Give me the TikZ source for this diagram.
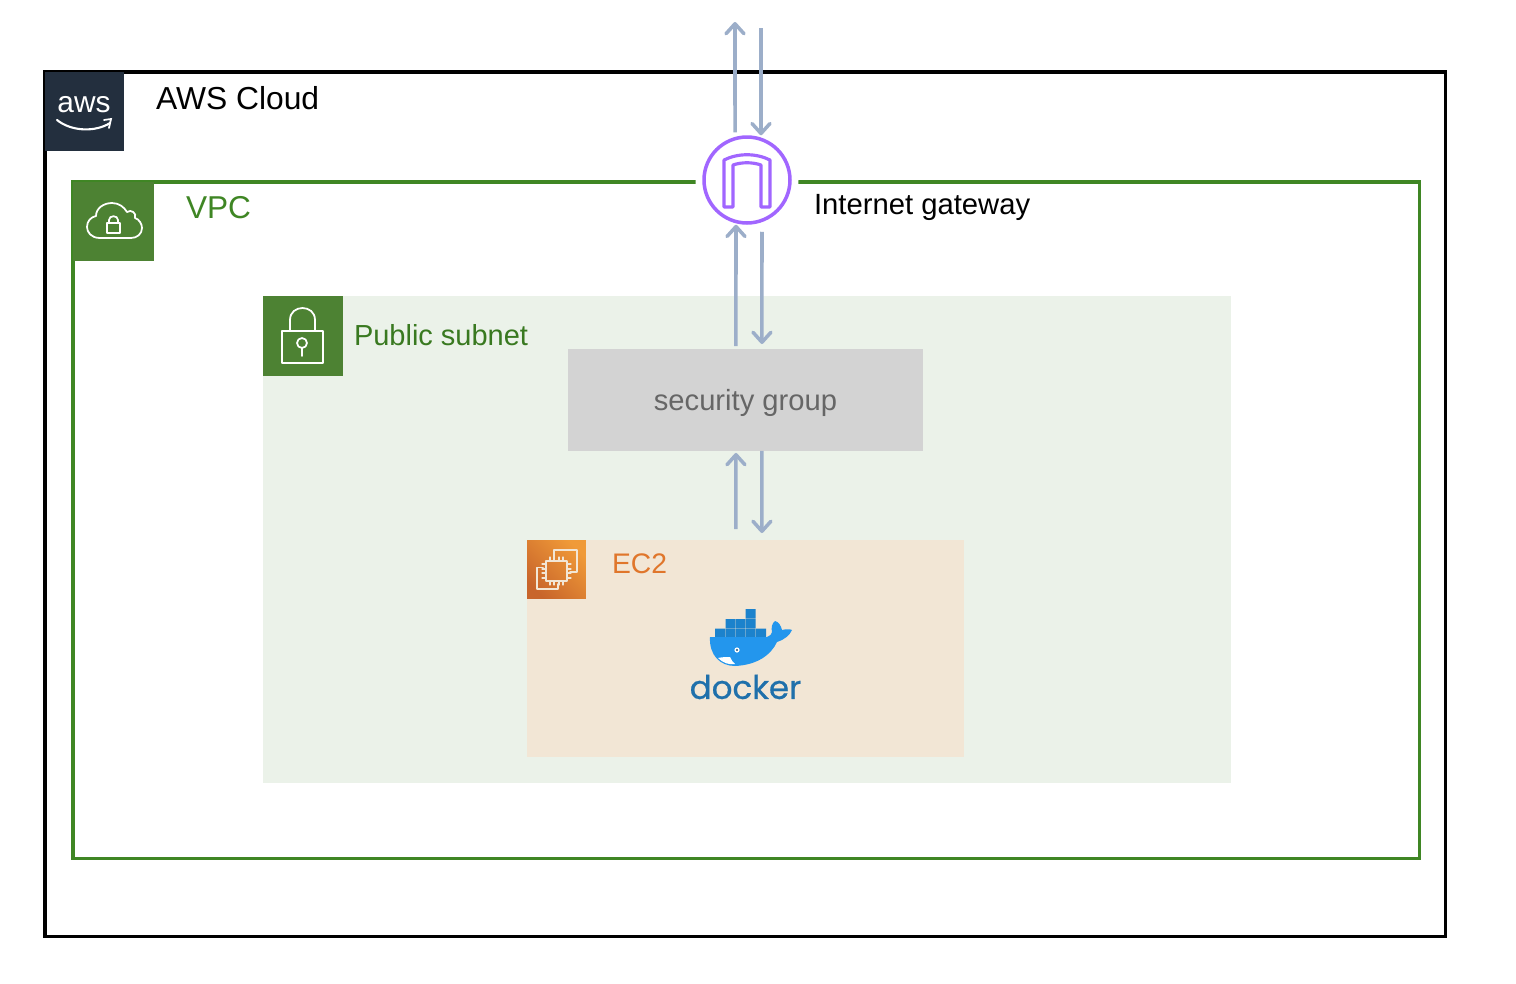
\documentclass[tikz,border=0pt]{standalone}
\usepackage{fontspec}
\setmainfont{Liberation Sans}
\newfontfamily\dockerfont[FakeBold=0.7]{Poppins}
\usetikzlibrary{arrows.meta}
\definecolor{awsdark}{HTML}{232F3E}
\definecolor{vpcgreen}{HTML}{3F8624}
\definecolor{iconGreen}{HTML}{4D8233}
\definecolor{subnetfill}{HTML}{EBF2E9}
\definecolor{sgfill}{HTML}{D3D3D3}
\definecolor{sgtext}{HTML}{666666}
\definecolor{ec2fill}{HTML}{F2E6D5}
\definecolor{ec2text}{HTML}{E0762B}
\definecolor{ec2low}{HTML}{C8652B}
\definecolor{ec2high}{HTML}{F09A38}
\definecolor{igwpurple}{HTML}{A166FF}
\definecolor{flowblue}{HTML}{9CAEC9}
\definecolor{whaleblue}{HTML}{2396ED}
\definecolor{crateblue}{HTML}{1C82CC}
\definecolor{dockertext}{HTML}{1F70AB}
\tikzset{
  >={Straight Barb[length=0.2cm,width=0.36cm,round]},
  box/.style={rectangle,anchor=north west,inner sep=0pt,outer sep=0pt},
  tag/.style={anchor=west,inner sep=0pt,outer sep=0pt},
  flowline/.style={draw=flowblue,line width=2pt},
  iconline/.style={draw=white,line width=1pt,line cap=round,line join=round},
  chipline/.style={draw=ec2fill,line width=1.1pt,line cap=round,line join=round},
}
\begin{document}
\begin{tikzpicture}[x=0.02cm,y=-0.02cm]
\useasboundingbox (0,0) rectangle (1516,984);
\fill[white] (0,0) rectangle (1516,984);
% boxes
\node[box,draw=black,line width=1.8pt,minimum width=28.02cm,minimum height=17.3cm] (cloudbox) at (45,72) {};
\node[box,draw=vpcgreen,line width=1.8pt,minimum width=26.94cm,minimum height=13.54cm] (vpcbox) at (73,182) {};
\node[box,fill=subnetfill,minimum width=19.36cm,minimum height=9.74cm] (subnetbox) at (263,296) {};
\node[box,fill=sgfill,text=sgtext,text depth=0pt,font=\fontsize{16.6}{18}\selectfont,minimum width=7.1cm,minimum height=2.04cm] (sg) at (568,349) {security group};
\node[box,fill=ec2fill,minimum width=8.74cm,minimum height=4.34cm] (ec2box) at (527,540) {};
% icon squares
\node[box,fill=awsdark,minimum width=1.58cm,minimum height=1.58cm] (awslogo) at (45,72) {};
\node[box,fill=iconGreen,minimum width=1.62cm,minimum height=1.58cm] (vpcicon) at (73,182) {};
\node[box,fill=iconGreen,minimum width=1.6cm,minimum height=1.6cm] (subneticon) at (263,296) {};
\node[box,left color=ec2low,right color=ec2high,shading angle=135,minimum width=1.18cm,minimum height=1.18cm] (ec2icon) at (527,540) {};
% labels
\node[tag,font=\fontsize{18.1}{20}\selectfont] (cloudlabel) at (156,98) {AWS Cloud};
\node[tag,text=vpcgreen,font=\fontsize{18}{20}\selectfont] (vpclabel) at (186,208) {VPC};
\node[tag,font=\fontsize{16.65}{20}\selectfont] (igwlabel) at (814,207) {Internet gateway};
\node[tag,text=vpcgreen!90!black,font=\fontsize{16.5}{20}\selectfont] (subnetlabel) at (354,335) {Public subnet};
\node[tag,text=ec2text,font=\fontsize{16.1}{20}\selectfont] (ec2label) at (612,564) {EC2};
\node[white,inner sep=0pt,font=\fontsize{17}{20}\selectfont] (awstext) at (84,105) {aws};
\node[text=dockertext,inner sep=0pt,font=\dockerfont\fontsize{18.5}{20}\selectfont] (dockerword) at (745.5,687) {docker};
% aws smile
\draw[white,line width=1.2pt,line cap=round] (57,120) .. controls (72,132) and (96,132) .. (110,123);
\draw[white,line width=1pt,line cap=round] (104,120) -- (111,119) -- (109,128);
% vpc cloud
\draw[iconline] (100,238) .. controls (91,238) and (87,232) .. (87,227)
  .. controls (87,221) and (91,217) .. (96,216)
  .. controls (96,208) and (104,203) .. (112,203)
  .. controls (119,203) and (124,207) .. (127,212)
  .. controls (131,209) and (137,213) .. (135,218)
  .. controls (139,219) and (142,224) .. (142,228)
  .. controls (142,234) and (137,238) .. (131,238) -- cycle;
\draw[iconline] (107,223) rectangle (120,233);
\draw[iconline] (109,223) -- (109,220) .. controls (109,215) and (118,215) .. (118,220) -- (118,223);
% subnet lock
\draw[iconline] (282,331) rectangle (323,363);
\draw[iconline] (290,331) -- (290,320) .. controls (290,304) and (315,304) .. (315,320) -- (315,331);
\draw[iconline] (302,343) circle (5);
\draw[iconline] (302,348) -- (302,356);
% ec2 chip
\draw[chipline] (546,561) rectangle (567,581);
\draw[chipline] (554,558) -- (554,550) -- (577,550) -- (577,572) -- (570,572);
\draw[chipline] (543,567.5) -- (537,567.5) -- (537,589) -- (558,589) -- (558,584);
\draw[chipline,line width=0.7pt] (550,557) -- (550,561) (554,557) -- (554,561) (559,557) -- (559,561) (563,557) -- (563,561)
  (550,581) -- (550,585) (554,581) -- (554,585) (559,581) -- (559,585) (563,581) -- (563,585)
  (542,564) -- (546,564) (542,569) -- (546,569) (542,573) -- (546,573) (542,578) -- (546,578)
  (567,564) -- (571,564) (567,569) -- (571,569) (567,573) -- (571,573) (567,578) -- (571,578);
% docker whale
\fill[crateblue] (715,628.5) rectangle (725,637) (725.5,628.5) rectangle (735,637) (735.5,628.5) rectangle (745,637)
  (745.5,628.5) rectangle (755.5,637) (756,628.5) rectangle (766,637)
  (725.5,619) rectangle (735,628) (735.5,619) rectangle (745,628) (745.5,619) rectangle (755.5,628)
  (745.5,609) rectangle (755.5,618.5);
\fill[whaleblue] (710,637) -- (767,637) .. controls (770,636) and (772,634) .. (772,632)
  .. controls (771,628) and (772,623) .. (775,621) .. controls (779,622) and (781,626) .. (782,630)
  .. controls (786,629) and (790,629) .. (792,630) .. controls (790,635) and (784,640) .. (777,642)
  .. controls (771,655) and (757,665) .. (735,666) .. controls (720,666) and (709,655) .. (710,637) -- cycle;
\fill[white] (718,658) .. controls (722,657) and (727,657) .. (730,657) .. controls (731,660) and (733,662) .. (735,664)
  .. controls (729,665) and (723,663) .. (718,658) -- cycle;
\fill[white] (737,650) circle (2.6);
\fill[awsdark!70!whaleblue] (737,650) circle (1.2);
% internet gateway
\fill[white] (747,180) circle (51.5);
\node[circle,draw=igwpurple,fill=white,line width=2pt,minimum size=1.72cm,inner sep=0pt] (igw) at (747,180) {};
\draw[igwpurple,line width=1.8pt,line join=round] (724,207) -- (724,160) .. controls (738,153) and (756,153) .. (770,160) -- (770,207) -- (761,207) -- (761,165)
  .. controls (752,162) and (742,162) .. (733,165) -- (733,207) -- cycle;
% arrows
\coordinate (upout) at (735,22);
\coordinate (downin) at (761,28);
\draw[flowline,->] ([xshift=-0.24cm,yshift=0.06cm]igw.north) -- (upout);
\draw[flowline,->] (downin) -- ([xshift=0.28cm]igw.north);
\draw[flowline,->] ([xshift=-0.19cm,yshift=0.06cm]sg.north) -- ([xshift=-0.22cm]igw.south);
\draw[flowline,->] ([xshift=0.3cm,yshift=-0.14cm]igw.south) -- ([xshift=0.33cm,yshift=0.1cm]sg.north);
\draw[flowline,->] ([xshift=-0.19cm,yshift=0.22cm]ec2box.north) -- ([xshift=-0.19cm,yshift=-0.04cm]sg.south);
\draw[flowline,->] ([xshift=0.33cm]sg.south) -- ([xshift=0.33cm,yshift=0.14cm]ec2box.north);
\end{tikzpicture}
\end{document}
